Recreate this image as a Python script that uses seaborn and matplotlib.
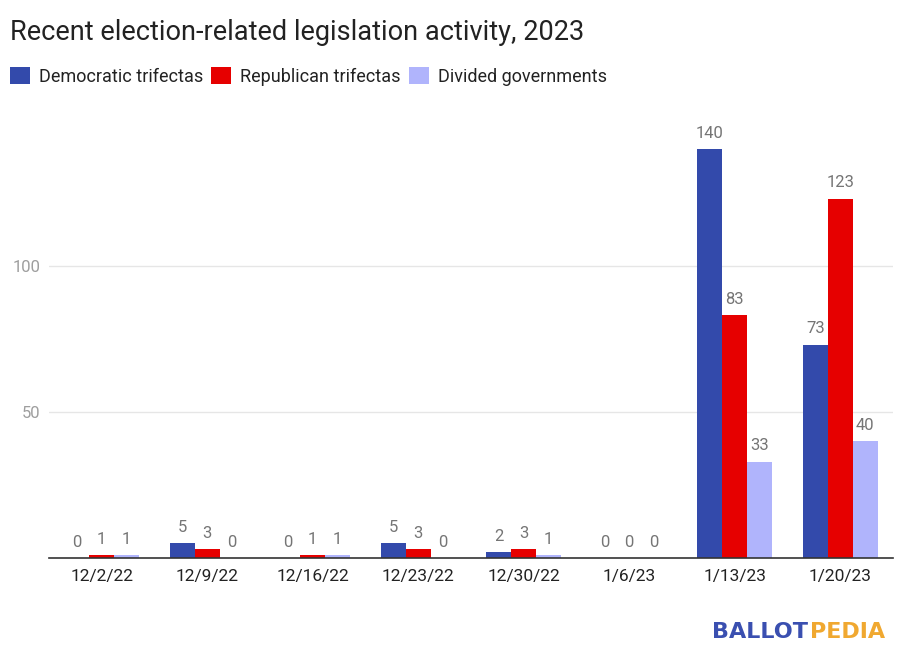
import pandas as pd
import seaborn as sns
import matplotlib.pyplot as plt

# data
weeks = ['12/2/22', '12/9/22', '12/16/22', '12/23/22', '12/30/22', '1/6/23', '1/13/23', '1/20/23']
dem = [0, 5, 0, 5, 2, 0, 140, 73]
rep = [1, 3, 1, 3, 3, 0, 83, 123]
div = [1, 0, 1, 0, 1, 0, 33, 40]
series = ['Democratic trifectas', 'Republican trifectas', 'Divided governments']
colors = ['#334aab', '#e60000', '#b0b4fc']

df = pd.DataFrame({'week': weeks * 3,
                   'value': dem + rep + div,
                   'group': [series[0]] * 8 + [series[1]] * 8 + [series[2]] * 8})

sns.set_style('white')
plt.rcParams['font.family'] = ['Roboto', 'DejaVu Sans']

fig = plt.figure(figsize=(9.04, 6.58), dpi=100)
ax = fig.add_axes([0.054, 0.152, 0.934, 0.666])

sns.barplot(data=df, x='week', y='value', hue='group', palette=colors,
            width=0.71, saturation=1, linewidth=0, ax=ax, legend=True)

for c in ax.containers:
    ax.bar_label(c, padding=6, fontsize=12, color='#757575')

ax.set_ylim(0, 150)
ax.set_xlim(-0.5, 7.5)
ax.set_yticks([50, 100])
ax.grid(axis='y', color='#e6e6e6', linewidth=1)
ax.set_axisbelow(True)
for s in ['top', 'right', 'left']:
    ax.spines[s].set_visible(False)
ax.spines['bottom'].set_color('#333333')
ax.spines['bottom'].set_linewidth(1.2)
ax.tick_params(axis='y', length=0, labelsize=12, labelcolor='#9e9e9e', pad=6)
ax.tick_params(axis='x', length=0, labelsize=12.5, labelcolor='#222222', pad=8)
ax.set_xlabel('')
ax.set_ylabel('')

handles, labels = ax.get_legend_handles_labels()
ax.get_legend().remove()
fig.legend(handles, labels, loc='upper left', bbox_to_anchor=(0.011, 0.898),
           ncol=3, frameon=False, fontsize=13, handlelength=1.1, handleheight=1.1,
           handletextpad=0.5, columnspacing=0.45, borderpad=0, borderaxespad=0,
           labelcolor='#222222')

fig.text(0.011, 0.951, 'Recent election-related legislation activity, 2023',
         fontsize=19.5, color='#222222', va='center', ha='left')

# ballotpedia logo text
fig.text(0.8935, 0.04, 'BALLOT', fontsize=16, fontweight='bold', color='#3a4fb0',
         ha='right', va='center', family='DejaVu Sans')
fig.text(0.8955, 0.04, 'PEDIA', fontsize=16, fontweight='bold', color='#f0a830',
         ha='left', va='center', family='DejaVu Sans')

fig.savefig('out.png', dpi=100)
